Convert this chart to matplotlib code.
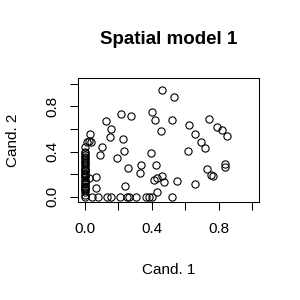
import matplotlib
matplotlib.use("Agg")
import matplotlib.pyplot as plt

# candidate positions
cand1 = [0.461, 0.535, 0.216, 0.275, 0.401, 0.419, 0.126, 0.519, 0.156, 0.455,
         0.030, 0.148, 0.228, 0.014, 0.026, 0.040, 0.102, 0.0, 0.234, 0.092,
         0.395, 0.192, 0.335, 0.423, 0.257, 0.329, 0.068, 0.026, 0.411, 0.431,
         0.461, 0.473, 0.070, 0.240, 0.433,
         0.044, 0.082, 0.136, 0.154, 0.212, 0.250, 0.264, 0.308, 0.368, 0.383,
         0.403, 0.523,
         0.739, 0.623, 0.659, 0.789, 0.819, 0.848, 0.695, 0.719, 0.617, 0.835,
         0.838, 0.731, 0.754, 0.763, 0.553, 0.659]
cand2 = [0.943, 0.878, 0.729, 0.714, 0.746, 0.676, 0.667, 0.678, 0.596, 0.581,
         0.555, 0.529, 0.508, 0.482, 0.490, 0.485, 0.438, 0.438, 0.403, 0.370,
         0.388, 0.341, 0.279, 0.279, 0.255, 0.209, 0.173, 0.165, 0.153, 0.167,
         0.182, 0.132, 0.079, 0.094, 0.044,
         0.0, 0.0, 0.0, 0.0, 0.0, 0.0, 0.0, 0.0, 0.0, 0.0,
         0.0, 0.0,
         0.685, 0.634, 0.555, 0.617, 0.590, 0.537, 0.482, 0.429, 0.405, 0.288,
         0.262, 0.244, 0.194, 0.185, 0.141, 0.112]

# the column of voters sitting at Cand. 1 = 0
stack2 = [0.40, 0.385, 0.37, 0.355, 0.34, 0.325, 0.31, 0.295, 0.28, 0.26,
          0.245, 0.235, 0.225, 0.215, 0.205, 0.195, 0.185, 0.175, 0.15, 0.14,
          0.12, 0.11, 0.10, 0.09, 0.08, 0.07, 0.06, 0.04, 0.02, 0.0]
stack1 = [0.0] * len(stack2)

xticks = [0.0, 0.2, 0.4, 0.6, 0.8, 1.0]
xticklabels = ["0.0", "", "0.4", "", "0.8", ""]
yticks = [0.0, 0.2, 0.4, 0.6, 0.8, 1.0]
yticklabels = ["0.0", "", "0.4", "", "0.8", ""]

plt.rcParams["font.family"] = ["Liberation Sans", "DejaVu Sans"]

fig = plt.figure(figsize=(3, 3), dpi=100)
ax = fig.add_axes([78 / 300, 1 - 202 / 300, 181 / 300, 124 / 300])

ax.plot(cand1 + stack1, cand2 + stack2, linestyle="none", marker="o",
        markersize=5.2, markerfacecolor="none", markeredgecolor="black",
        markeredgewidth=0.8)

ax.set_xlim(-0.04, 1.04)
ax.set_ylim(-0.045, 1.05)

ax.set_xticks(xticks)
ax.set_xticklabels(xticklabels)
ax.set_yticks(yticks)
ax.set_yticklabels(yticklabels, rotation=90, va="center")

ax.tick_params(axis="both", direction="out", length=5.5, width=0.75,
               labelsize=11, colors="black")
ax.tick_params(axis="x", pad=9)
ax.tick_params(axis="y", pad=8)
for s in ax.spines.values():
    s.set_linewidth(0.75)

ax.set_title("Spatial model 1", fontsize=13.5, fontweight="bold", pad=0,
             y=(202 - 40) / 124, va="center")
ax.set_xlabel("Cand. 1", fontsize=11, va="center")
ax.xaxis.set_label_coords(0.5, -(270 - 202) / 124)
ax.set_ylabel("Cand. 2", fontsize=11, va="center")
ax.yaxis.set_label_coords(-(78 - 13) / 181, 0.5)

fig.savefig("out.png", dpi=100)
